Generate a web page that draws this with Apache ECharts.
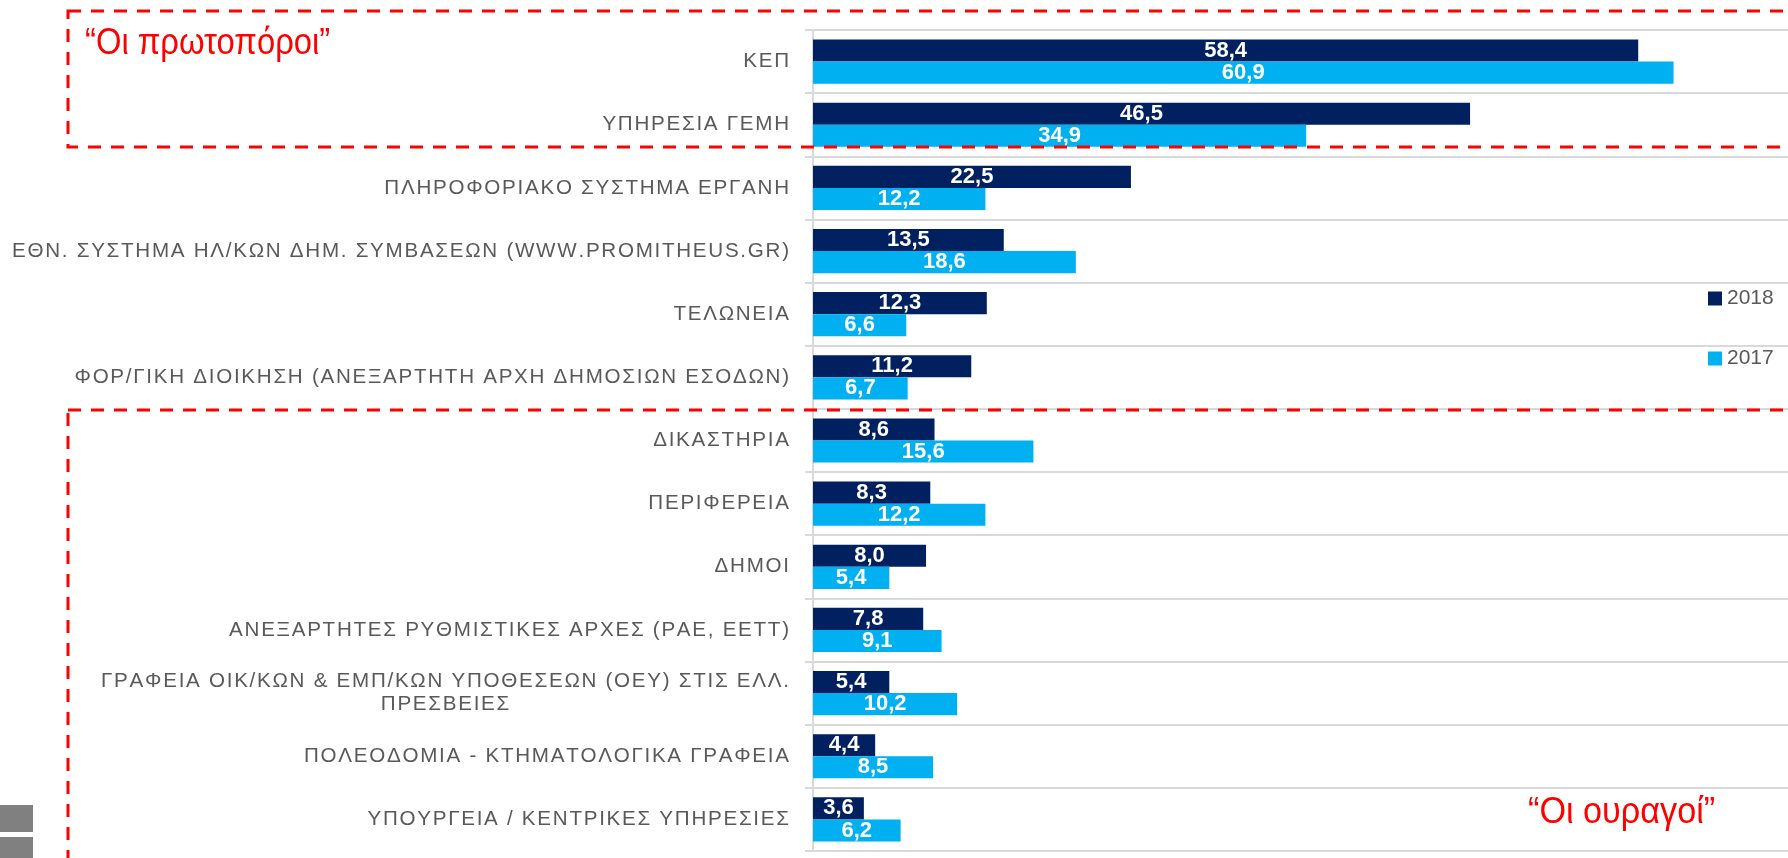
<!DOCTYPE html>
<html>
<head>
<meta charset="utf-8">
<script src="https://cdn.jsdelivr.net/npm/echarts@6/dist/echarts.min.js"></script>
<style>
  html, body { margin: 0; padding: 0; background: #fff; }
  #main { width: 1788px; height: 858px; }
</style>
</head>
<body>
<div id="main"></div>
<script>
// categories, top to bottom
var categories = [
    'ΚΕΠ',
    'ΥΠΗΡΕΣΙΑ ΓΕΜΗ',
    'ΠΛΗΡΟΦΟΡΙΑΚΟ ΣΥΣΤΗΜΑ ΕΡΓΑΝΗ',
    'ΕΘΝ. ΣΥΣΤΗΜΑ ΗΛ/ΚΩΝ ΔΗΜ. ΣΥΜΒΑΣΕΩΝ (WWW.PROMITHEUS.GR)',
    'ΤΕΛΩΝΕΙΑ',
    'ΦΟΡ/ΓΙΚΗ ΔΙΟΙΚΗΣΗ (ΑΝΕΞΑΡΤΗΤΗ ΑΡΧΗ ΔΗΜΟΣΙΩΝ ΕΣΟΔΩΝ)',
    'ΔΙΚΑΣΤΗΡΙΑ',
    'ΠΕΡΙΦΕΡΕΙΑ',
    'ΔΗΜΟΙ',
    'ΑΝΕΞΑΡΤΗΤΕΣ ΡΥΘΜΙΣΤΙΚΕΣ ΑΡΧΕΣ (ΡΑΕ, ΕΕΤΤ)',
    'ΓΡΑΦΕΙΑ ΟΙΚ/ΚΩΝ & ΕΜΠ/ΚΩΝ ΥΠΟΘΕΣΕΩΝ (ΟΕΥ) ΣΤΙΣ ΕΛΛ.\nΠΡΕΣΒΕΙΕΣ',
    'ΠΟΛΕΟΔΟΜΙΑ - ΚΤΗΜΑΤΟΛΟΓΙΚΑ ΓΡΑΦΕΙΑ',
    'ΥΠΟΥΡΓΕΙΑ / ΚΕΝΤΡΙΚΕΣ ΥΠΗΡΕΣΙΕΣ'
];
var values2018 = [58.4, 46.5, 22.5, 13.5, 12.3, 11.2, 8.6, 8.3, 8.0, 7.8, 5.4, 4.4, 3.6];
var values2017 = [60.9, 34.9, 12.2, 18.6, 6.6, 6.7, 15.6, 12.2, 5.4, 9.1, 10.2, 8.5, 6.2];
var seriesNames = ['2018', '2017'];
var seriesColors = ['#002060', '#00B0F0'];
var noteTop = '“Οι πρωτοπόροι”';
var noteBottom = '“Οι ουραγοί”';

var sans = "'Liberation Sans', Arial, sans-serif";

// spread letters a bit, like the original
function spaced(s) {
    return s.split('').join('\u200A');
}

var myChart = echarts.init(document.getElementById('main'));

var barLabel = {
    show: true,
    position: 'inside',
    color: '#fff',
    fontFamily: sans,
    fontWeight: 'bold',
    fontSize: 22,
    formatter: function (p) {
        return p.value.toFixed(1).replace('.', ',');
    }
};

var dash = {
    stroke: '#FF0000',
    fill: null,
    lineWidth: 3,
    lineDash: [13, 10]
};

var option = {
    animation: false,
    grid: { left: 813, right: 0, top: 30, bottom: 7 },
    legend: {
        orient: 'vertical',
        left: 1703,
        top: 283,
        itemWidth: 14,
        itemHeight: 14,
        itemGap: 39,
        icon: 'rect',
        textStyle: { color: '#595959', fontSize: 21, fontFamily: sans },
        data: seriesNames
    },
    xAxis: {
        type: 'value',
        min: 0,
        max: 69,
        axisLabel: { show: false },
        axisLine: { show: false },
        axisTick: { show: false },
        splitLine: { show: false }
    },
    yAxis: {
        type: 'category',
        inverse: true,
        data: categories,
        axisLine: { lineStyle: { color: '#d9d9d9', width: 2 } },
        axisTick: { show: true, length: 8, lineStyle: { color: '#d9d9d9', width: 2 } },
        splitLine: { show: true, lineStyle: { color: '#d9d9d9', width: 2 } },
        axisLabel: {
            margin: 24,
            color: '#595959',
            fontFamily: sans,
            fontSize: 20.6,
            lineHeight: 23,
            formatter: function (v) {
                var lines = v.split('\n');
                if (lines.length === 1) return spaced(v);
                return spaced(lines[0]) + '\n{c|' + spaced(lines[1]) + '}';
            },
            rich: {
                c: { align: 'center', color: '#595959', fontFamily: sans, fontSize: 20.6, lineHeight: 23 }
            }
        }
    },
    series: [
        {
            name: seriesNames[0],
            type: 'bar',
            data: values2018,
            barGap: '0%',
            barCategoryGap: '30%',
            itemStyle: { color: seriesColors[0] },
            label: barLabel
        },
        {
            name: seriesNames[1],
            type: 'bar',
            data: values2017,
            barGap: '0%',
            barCategoryGap: '30%',
            itemStyle: { color: seriesColors[1] },
            label: barLabel
        }
    ],
    graphic: [
        { type: 'rect', z: 100, shape: { x: 68, y: 11, width: 1800, height: 136 }, style: dash },
        { type: 'rect', z: 100, shape: { x: 68, y: 410, width: 1800, height: 600 }, style: dash },
        {
            type: 'text', z: 100, x: 85, y: 44, scaleX: 0.91,
            style: { text: noteTop, fill: '#FF0000', font: '36px ' + sans, verticalAlign: 'middle' }
        },
        {
            type: 'text', z: 100, x: 1528, y: 813, scaleX: 0.95,
            style: { text: noteBottom, fill: '#FF0000', font: '36px ' + sans, verticalAlign: 'middle' }
        },
        { type: 'rect', z: 100, shape: { x: 0, y: 805, width: 33, height: 27 }, style: { fill: '#808080' } },
        { type: 'rect', z: 100, shape: { x: 0, y: 837, width: 33, height: 25 }, style: { fill: '#808080' } }
    ]
};

myChart.setOption(option);
</script>
</body>
</html>
